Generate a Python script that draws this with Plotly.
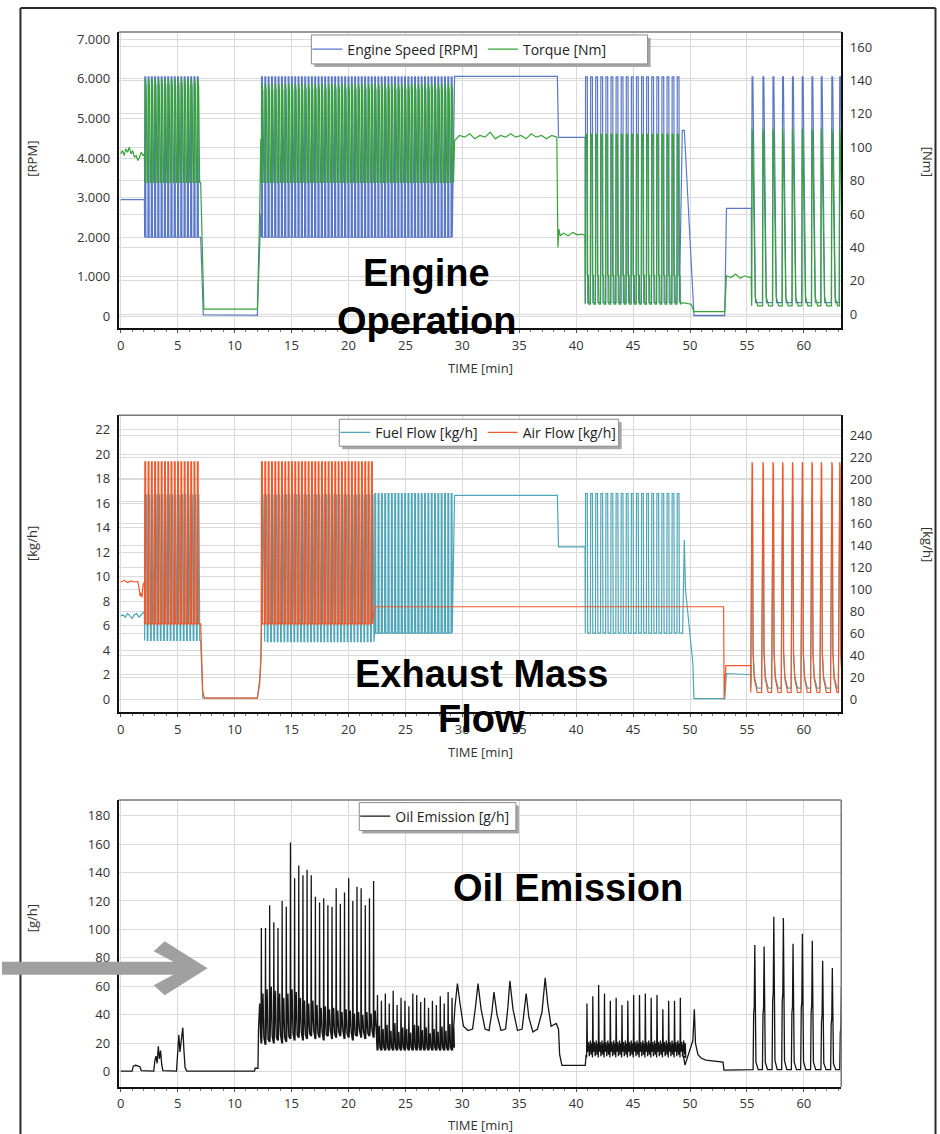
import plotly.graph_objects as go

# ================= values =================
TIME_TICKS = [0, 5, 10, 15, 20, 25, 30, 35, 40, 45, 50, 55, 60]
RPM_TICKS = [0, 1000, 2000, 3000, 4000, 5000, 6000, 7000]
RPM_TICK_TEXT = ["0", "1.000", "2.000", "3.000", "4.000", "5.000", "6.000", "7.000"]
NM_TICKS = [0, 20, 40, 60, 80, 100, 120, 140, 160]
KGH_TICKS = [0, 2, 4, 6, 8, 10, 12, 14, 16, 18, 20, 22]
AIR_TICKS = [0, 20, 40, 60, 80, 100, 120, 140, 160, 180, 200, 220, 240]
GH_TICKS = [0, 20, 40, 60, 80, 100, 120, 140, 160, 180]

# cycle start times of the last (transient) test phase
SPIKE_T = [55.45, 56.41, 57.29, 58.13, 59.0, 59.86, 60.71, 61.53, 62.46, 63.15]

# ---- Engine Speed [RPM] ----
ES_IDLE_T = [0.0, 2.08]
ES_IDLE_V = [2950, 2950]
ES_CYC_A = [2.1, 7.0, 17, 2000, 6050]          # start, end, cycles, low, high
ES_STOP_T = [7.02, 7.25, 12.0, 12.15, 12.3]
ES_STOP_V = [2000, 40, 30, 1200, 2600]
ES_CYC_B = [12.35, 29.3, 58, 2000, 6050]
ES_HOLD_T = [29.32, 38.35, 38.45, 40.78]
ES_HOLD_V = [6060, 6060, 4520, 4520]
ES_CYC_C = [40.8, 49.3, 19, 350, 6050]
ES_DOWN_T = [49.32, 49.5, 50.35, 53.05, 53.2, 55.38]
ES_DOWN_V = [4700, 4700, 20, 20, 2730, 2730]
ES_SPIKE_PEAK = [6050, 6050, 6050, 6050, 6050, 6050, 6050, 6050, 6050, 6050]
ES_SPIKE_LOW = 350

# ---- Torque [Nm] ----
TQ_IDLE_T = [0.0, 0.15, 0.3, 0.45, 0.6, 0.75, 0.9, 1.05, 1.2, 1.35, 1.5, 1.65, 1.8, 1.95, 2.08]
TQ_IDLE_V = [96, 98, 95, 99, 97, 100, 96, 98, 94, 95, 92, 94, 97, 95, 96]
TQ_CYC_A = [2.1, 7.0, 17, 79, 141]
TQ_STOP_T = [7.02, 7.3, 12.0, 12.2, 12.3]
TQ_STOP_V = [79, 3, 3, 60, 105]
TQ_CYC_B = [12.35, 29.3, 58, 79, 138]
TQ_HOLD_T = [29.32, 29.75, 30.2, 30.65, 31.1, 31.55, 32.0, 32.45, 32.9, 33.35, 33.8,
             34.25, 34.7, 35.15, 35.6, 36.05, 36.5, 36.95, 37.4, 37.85, 38.3]
TQ_HOLD_V = [104, 107, 106, 108, 105, 107, 106, 109, 105, 107, 106,
             108, 106, 107, 105, 108, 106, 107, 105, 107, 106]
TQ_STEP_T = [38.4, 38.48, 38.6, 38.9, 39.3, 39.7, 40.1, 40.5, 40.78]
TQ_STEP_V = [40, 51, 47, 48.5, 47, 49, 47.5, 48, 47]
TQ_CYC_C = [40.8, 49.3, 19, 6, 108]
TQ_DOWN_T = [49.32, 50.1, 50.35, 53.05, 53.2, 53.6, 54.0, 54.4, 54.8, 55.2, 55.38]
TQ_DOWN_V = [7, 6, 1.5, 1.5, 23, 22, 24, 21.5, 23, 22, 22.5]
TQ_SPIKE_PEAK = [111, 111, 111, 111, 111, 111, 111, 111, 111, 111]
TQ_SPIKE_LOW = 5

# ---- Fuel Flow [kg/h] (left axis) ----
FF_IDLE_T = [0.0, 0.2, 0.4, 0.6, 0.8, 1.0, 1.2, 1.4, 1.6, 1.8, 2.0, 2.08]
FF_IDLE_V = [6.8, 6.9, 6.7, 7.0, 6.8, 6.6, 6.9, 7.0, 6.7, 6.9, 7.1, 7.0]
FF_CYC_A = [2.1, 7.0, 17, 4.8, 16.7]
FF_STOP_T = [7.02, 7.2, 12.0, 12.2, 12.3]
FF_STOP_V = [4.8, 0.1, 0.1, 1.6, 3.0]
FF_CYC_B = [12.35, 22.3, 34, 4.7, 16.7]
FF_CYC_C = [22.3, 29.3, 24, 5.4, 16.8]
FF_HOLD_T = [29.32, 38.35, 38.45, 40.78]
FF_HOLD_V = [16.65, 16.65, 12.45, 12.45]
FF_CYC_D = [40.8, 49.3, 19, 5.4, 16.8]
FF_DOWN_T = [49.35, 49.5, 49.6, 50.25, 50.35, 53.05, 53.2, 55.38]
FF_DOWN_V = [5.4, 13.0, 9.0, 2.9, 0.05, 0.05, 2.1, 2.0]
FF_SPIKE_PEAK = [16.5, 16.5, 16.5, 16.5, 16.5, 16.5, 16.5, 16.5, 16.5, 16.5]
FF_SPIKE_LOW = 0.9

# ---- Air Flow [kg/h] (right axis) ----
AF_IDLE_T = [0.0, 0.3, 0.6, 0.9, 1.2, 1.5, 1.62, 1.7, 1.78, 1.86, 1.95, 2.08]
AF_IDLE_V = [107, 108.5, 106.5, 108, 107, 107.5, 101, 94, 97, 93, 104, 107]
AF_CYC_A = [2.1, 7.0, 17, 69, 216]
AF_STOP_T = [7.02, 7.2, 7.35, 12.0, 12.1, 12.2, 12.3]
AF_STOP_V = [69, 8, 1.5, 1.5, 8, 14, 35]
AF_CYC_B = [12.35, 22.3, 34, 69, 216]
AF_HOLD_T = [22.32, 52.95, 53.0, 53.15, 55.38]
AF_HOLD_V = [84.5, 84.5, 0.5, 31, 31]
AF_SPIKE_PEAK = [216, 216, 216, 216, 216, 216, 216, 216, 216, 216]
AF_SPIKE_LOW = 6.6

# ---- Oil Emission [g/h] ----
OIL_IDLE_T = [0.0, 1.0, 1.1, 1.3, 1.5, 1.7, 1.8, 2.9, 3.0, 3.1, 3.2, 3.3, 3.4, 3.5, 3.6, 3.7,
              4.9, 5.0, 5.1, 5.2, 5.3, 5.45, 5.55, 5.65, 5.8, 11.75, 11.8, 12.05, 12.1, 12.2, 12.28]
OIL_IDLE_V = [0.5, 0.5, 4, 4.6, 4.2, 3.5, 0.8, 0.5, 8, 11, 6, 18, 9, 15, 5, 0.8,
              0.5, 12, 26, 14, 20, 31, 15, 3, 0.5, 0.5, 2.5, 2.5, 30, 48, 25]
OIL_B_FIRST, OIL_B_LAST = 12.35, 22.21
OIL_B_PEAK = [101, 101, 117, 105, 101, 120, 116, 161, 136, 145, 138, 142, 138, 123,
              119, 122, 117, 116, 129, 118, 126, 136, 120, 130, 129, 117, 122, 134]
OIL_B_MID = [55, 58, 60, 57, 55, 52, 55, 58, 56, 52, 50, 48, 50, 47,
             45, 46, 44, 45, 43, 42, 44, 43, 41, 42, 40, 42, 41, 43]
OIL_B_LOW = [20, 19, 21, 20, 22, 20, 21, 23, 22, 24, 22, 23, 25, 23,
             24, 22, 25, 23, 24, 25, 23, 24, 22, 25, 24, 23, 25, 24]
OIL_C_FIRST, OIL_C_LAST = 22.55, 29.1
OIL_C_PEAK = [54, 50, 55, 48, 57, 47, 52, 50, 46, 55, 54, 49, 52, 45, 50, 47, 53, 48, 56, 52]
OIL_C_LOW = 15
OIL_WAVE_T = [29.15, 29.35, 29.57, 29.8, 30.1, 30.5, 30.9, 31.15, 31.38, 31.65, 32.0, 32.35,
              32.6, 32.78, 33.05, 33.4, 33.8, 34.0, 34.18, 34.45, 34.85, 35.25, 35.45, 35.61,
              35.85, 36.2, 36.6, 37.0, 37.28, 37.5, 37.8, 38.05, 38.25, 38.45, 38.55, 38.75, 40.8]
OIL_WAVE_V = [20, 45, 62, 48, 32, 29, 30, 45, 62, 44, 30, 29,
              42, 56, 40, 29, 30, 45, 64, 44, 29, 30, 44, 55,
              38, 28, 30, 42, 66, 48, 32, 33, 34, 30, 12, 4.5, 4.5]
OIL_D_FIRST, OIL_D_LAST = 40.95, 49.15
OIL_D_PEAK = [48, 53, 61, 55, 50, 52, 47, 50, 54, 54, 55, 52, 54, 44, 50, 50, 52]
OIL_D_BAND = [21, 22, 20]
OIL_D_LOW = 10
OIL_TAIL_T = [49.3, 49.45, 49.56, 49.8, 50.0, 50.25, 50.38, 50.48, 50.7, 51.0, 51.4, 52.0,
              52.9, 52.98, 55.5]
OIL_TAIL_V = [12, 10, 4.7, 11, 15, 22, 44, 20, 12, 9.5, 8.2, 7.5, 6.8, 1.2, 1.2]
OIL_SPIKE_T = [55.69, 56.51, 57.36, 58.2, 59.05, 59.87, 60.74, 61.65, 62.5, 63.3]
OIL_SPIKE_PEAK = [89, 88, 109, 108, 90, 97, 92, 78, 73, 60]
OIL_SPIKE_LOW = 1.5

# ================= waveform shapes (phase, level fraction) =================
P_NARROW_DENSE = [(0.0, 0.0), (0.06, 1.0), (0.3, 1.0), (0.36, 0.0)]
P_WIDE = [(0.0, 0.0), (0.2, 1.0), (0.45, 0.93), (0.75, 0.0)]
P_CYAN = [(0.0, 0.0), (0.06, 1.0), (0.5, 1.0), (0.8, 0.0)]
P_NARROW = [(0.0, 0.0), (0.06, 1.0), (0.4, 1.0), (0.48, 0.0)]
P_TQ_C = [(0.0, 0.0), (0.06, 1.0), (0.2, 0.95), (0.3, 1.0), (0.38, 0.17), (0.62, 0.17), (0.68, 0.0)]
S_ES = [(-0.05, 0.0), (0.0, 1.0), (0.07, 1.0), (0.3, 0.0)]
S_TQ = [(-0.03, 0.0), (0.0, 1.0), (0.05, 0.96), (0.28, 0.05), (0.5, 0.0)]
S_AIR = [(-0.12, 0.0), (0.0, 1.0), (0.04, 0.98), (0.09, 0.18), (0.2, 0.06), (0.45, 0.0)]
S_OIL = [(-0.15, 0.0), (-0.1, 0.45), (-0.05, 0.5), (0.0, 1.0), (0.05, 0.2), (0.1, 0.06), (0.3, 0.0)]


def cyc(seg, prof):
    t0, t1, n, lo, hi = seg
    p = (t1 - t0) / n
    ts, vs = [], []
    for k in range(n):
        for ph, lv in prof:
            ts.append(t0 + (k + ph) * p)
            vs.append(lo + lv * (hi - lo))
    return ts, vs


def spk(times, peaks, lo, prof):
    ts, vs = [], []
    for tp, pk in zip(times, peaks):
        for dt, lv in prof:
            ts.append(tp + dt)
            vs.append(lo + lv * (pk - lo))
    return ts, vs


def join(*parts):
    T, V = [], []
    for t, v in parts:
        T += list(t)
        V += list(v)
    return T, V


es_t, es_v = join((ES_IDLE_T, ES_IDLE_V), cyc(ES_CYC_A, P_NARROW_DENSE), (ES_STOP_T, ES_STOP_V),
                  cyc(ES_CYC_B, P_NARROW_DENSE), (ES_HOLD_T, ES_HOLD_V), cyc(ES_CYC_C, P_NARROW),
                  (ES_DOWN_T, ES_DOWN_V), spk(SPIKE_T, ES_SPIKE_PEAK, ES_SPIKE_LOW, S_ES))
tq_t, tq_v = join((TQ_IDLE_T, TQ_IDLE_V), cyc(TQ_CYC_A, P_WIDE), (TQ_STOP_T, TQ_STOP_V),
                  cyc(TQ_CYC_B, P_WIDE), (TQ_HOLD_T, TQ_HOLD_V), (TQ_STEP_T, TQ_STEP_V),
                  cyc(TQ_CYC_C, P_TQ_C), (TQ_DOWN_T, TQ_DOWN_V),
                  spk(SPIKE_T, TQ_SPIKE_PEAK, TQ_SPIKE_LOW, S_TQ))
ff_t, ff_v = join((FF_IDLE_T, FF_IDLE_V), cyc(FF_CYC_A, P_CYAN), (FF_STOP_T, FF_STOP_V),
                  cyc(FF_CYC_B, P_CYAN), cyc(FF_CYC_C, P_NARROW_DENSE), (FF_HOLD_T, FF_HOLD_V),
                  cyc(FF_CYC_D, P_NARROW), (FF_DOWN_T, FF_DOWN_V),
                  spk(SPIKE_T, FF_SPIKE_PEAK, FF_SPIKE_LOW, S_AIR))
af_t, af_v = join((AF_IDLE_T, AF_IDLE_V), cyc(AF_CYC_A, P_NARROW_DENSE), (AF_STOP_T, AF_STOP_V),
                  cyc(AF_CYC_B, P_NARROW_DENSE), (AF_HOLD_T, AF_HOLD_V),
                  spk(SPIKE_T, AF_SPIKE_PEAK, AF_SPIKE_LOW, S_AIR))


def oil_series():
    ts, vs = list(OIL_IDLE_T), list(OIL_IDLE_V)
    pB = (OIL_B_LAST - OIL_B_FIRST) / (len(OIL_B_PEAK) - 1)
    for k, (pk, md, lo) in enumerate(zip(OIL_B_PEAK, OIL_B_MID, OIL_B_LOW)):
        tp = OIL_B_FIRST + k * pB
        for dt, v in [(-0.08, lo), (0.0, pk), (0.08, lo), (0.4, md), (0.6, lo + 4)]:
            ts.append(tp + dt * pB)
            vs.append(v)
    pC = (OIL_C_LAST - OIL_C_FIRST) / (len(OIL_C_PEAK) - 1)
    for k, pk in enumerate(OIL_C_PEAK):
        tp = OIL_C_FIRST + k * pC
        for dt, v in [(-0.1, OIL_C_LOW), (0.0, pk), (0.12, OIL_C_LOW), (0.45, 0.6 * pk),
                      (0.6, OIL_C_LOW + 2)]:
            ts.append(tp + dt * pC)
            vs.append(v)
    ts += OIL_WAVE_T
    vs += OIL_WAVE_V
    ts.append(40.87)
    vs.append(12)
    pD = (OIL_D_LAST - OIL_D_FIRST) / (len(OIL_D_PEAK) - 1)
    b1, b2, b3 = OIL_D_BAND
    for k, pk in enumerate(OIL_D_PEAK):
        tp = OIL_D_FIRST + k * pD
        for dt, v in [(-0.06, OIL_D_LOW), (0.0, pk), (0.08, OIL_D_LOW + 4), (0.25, b1),
                      (0.4, OIL_D_LOW + 1), (0.58, b2), (0.72, OIL_D_LOW + 2), (0.85, b3),
                      (0.93, OIL_D_LOW)]:
            ts.append(tp + dt * pD)
            vs.append(v)
    ts += OIL_TAIL_T
    vs += OIL_TAIL_V
    t2, v2 = spk(OIL_SPIKE_T, OIL_SPIKE_PEAK, OIL_SPIKE_LOW, S_OIL)
    return ts + t2, vs + v2


oil_t, oil_v = oil_series()

# ================= figure =================
W, H = 940, 1134
FONT = "Open Sans"
BLUE, GREEN, CYAN, ORANGE, BLACK = "#5a78c8", "#37a337", "#4ea6b8", "#f0582a", "#151515"
GRID = "#dadada"


def X(px):
    return px / W


def Y(py):
    return 1 - py / H


fig = go.Figure()
fig.add_trace(go.Scatter(x=es_t, y=es_v, mode="lines", name="Engine Speed [RPM]",
                         line=dict(color=BLUE, width=1.2), xaxis="x", yaxis="y", legend="legend"))
fig.add_trace(go.Scatter(x=tq_t, y=tq_v, mode="lines", name="Torque [Nm]",
                         line=dict(color=GREEN, width=1.2), xaxis="x", yaxis="y2", legend="legend"))
fig.add_trace(go.Scatter(x=ff_t, y=ff_v, mode="lines", name="Fuel Flow [kg/h]",
                         line=dict(color=CYAN, width=1.2), xaxis="x2", yaxis="y3", legend="legend2"))
fig.add_trace(go.Scatter(x=af_t, y=af_v, mode="lines", name="Air Flow [kg/h]",
                         line=dict(color=ORANGE, width=1.2), xaxis="x2", yaxis="y4", legend="legend2"))
fig.add_trace(go.Scatter(x=oil_t, y=oil_v, mode="lines", name="Oil Emission [g/h]",
                         line=dict(color=BLACK, width=1.3), xaxis="x3", yaxis="y5", legend="legend3"))

XD = [X(117), X(841)]
D1 = [Y(327), Y(30)]
D2 = [Y(711.7), Y(414)]
D3 = [Y(1086.7), Y(799.3)]

tickfont = dict(family=FONT, size=13, color="#333")


def xaxis(anchor):
    return dict(domain=XD, anchor=anchor, range=[-0.175, 63.28], tickvals=TIME_TICKS,
                showline=True, linecolor="#111", linewidth=2, showgrid=True, gridcolor=GRID,
                gridwidth=1, zeroline=False, ticks="outside", ticklen=3, tickcolor="#555",
                minor=dict(dtick=1, ticks="outside", ticklen=2, tickcolor="#777", showgrid=False),
                tickfont=tickfont, ticklabelstandoff=1)


def yaxis(domain, rng, vals, text=None, side="left", overlay=None, anchor="x"):
    d = dict(range=rng, tickvals=vals, showline=True, linecolor="#111", linewidth=2,
             showgrid=True, gridcolor=GRID, gridwidth=1, zeroline=False, ticks="",
             tickfont=tickfont, side=side, anchor=anchor, ticklabelstandoff=4)
    if text is not None:
        d["ticktext"] = text
    if overlay:
        d["overlaying"] = overlay
    else:
        d["domain"] = domain
    return d


def legend(xp, yp):
    return dict(x=X(xp), y=Y(yp), xanchor="left", yanchor="top", orientation="h",
                bgcolor="rgba(0,0,0,0)", borderwidth=0,
                font=dict(family=FONT, size=14, color="#222"), itemwidth=30)


# legend frames (left, top, right, bottom) in pixels
BOX1 = (310, 33, 647, 62)
BOX2 = (338, 418, 618, 445)
BOX3 = (358, 802, 515, 830)

fig.update_layout(
    width=W, height=H, margin=dict(l=0, r=0, t=0, b=0),
    paper_bgcolor="white", plot_bgcolor="white",
    font=dict(family=FONT, size=13, color="#333"),
    showlegend=True,
    xaxis=xaxis("y"),
    yaxis=yaxis(D1, [-302, 7184], RPM_TICKS, RPM_TICK_TEXT, anchor="x"),
    yaxis2=yaxis(None, [-8.5, 169], NM_TICKS, side="right", overlay="y", anchor="x"),
    xaxis2=xaxis("y3"),
    yaxis3=yaxis(D2, [-1.08, 23.19], KGH_TICKS, anchor="x2"),
    yaxis4=yaxis(None, [-11.5, 258.4], AIR_TICKS, side="right", overlay="y3", anchor="x2"),
    xaxis3=xaxis("y5"),
    yaxis5=yaxis(D3, [-10.5, 191], GH_TICKS, anchor="x3"),
    legend=legend(BOX1[0] - 4, 31.5),
    legend2=legend(BOX2[0] - 4, 415.5),
    legend3=legend(BOX3[0] - 4, 800),
)

shapes = []
# legend frames with drop shadow
for (l, t, r, b) in (BOX1, BOX2, BOX3):
    shapes.append(dict(type="rect", xref="paper", yref="paper", x0=X(l + 3), x1=X(r + 3),
                       y0=Y(b + 3), y1=Y(t + 3), fillcolor="#a6a6a6",
                       line=dict(width=0), layer="above"))
    shapes.append(dict(type="rect", xref="paper", yref="paper", x0=X(l), x1=X(r),
                       y0=Y(b), y1=Y(t), fillcolor="white",
                       line=dict(width=1, color="#8a8a8a"), layer="above"))
# top borders of plots (gray) and right border of the last plot
for ytop in (30, 414, 799.3):
    shapes.append(dict(type="line", xref="paper", yref="paper", x0=X(117), x1=X(841),
                       y0=Y(ytop), y1=Y(ytop), line=dict(color="#777", width=1.5)))
shapes.append(dict(type="line", xref="paper", yref="paper", x0=X(841), x1=X(841),
                   y0=Y(799.3), y1=Y(1086.7), line=dict(color="#777", width=1.5)))
# outer frame
for (x0, y0, x1, y1) in [(18.5, 6, 18.5, 1134), (18.5, 6, 935.5, 6), (935.5, 6, 935.5, 1134)]:
    shapes.append(dict(type="line", xref="paper", yref="paper", x0=X(x0), y0=Y(y0),
                       x1=X(x1), y1=Y(y1), line=dict(color="#2a2a2a", width=2)))
# gray arrow
shapes.append(dict(type="rect", xref="paper", yref="paper", x0=X(0), x1=X(192),
                   y0=Y(974.5), y1=Y(961.5), fillcolor="#a0a0a0", line=dict(width=0),
                   layer="above"))
chev = [(163, 941), (206, 968), (163, 995), (152, 985), (184, 968), (152, 951)]
path = "M " + " L ".join(f"{X(a):.5f},{Y(b):.5f}" for a, b in chev) + " Z"
shapes.append(dict(type="path", xref="paper", yref="paper", path=path, fillcolor="#a0a0a0",
                   line=dict(width=0), layer="above"))
fig.update_layout(shapes=shapes)

ann = []


def text(x, y, s, size=13, angle=0, fam=FONT, color="#333"):
    ann.append(dict(x=X(x), y=Y(y), xref="paper", yref="paper", text=s, showarrow=False,
                    xanchor="center", yanchor="middle", textangle=angle,
                    font=dict(family=fam, size=size, color=color)))


text(30, 157, "[RPM]", angle=-90)
text(928, 160, "[Nm]", angle=90)
text(480, 367, "TIME [min]")
text(30, 542, "[kg/h]", angle=-90)
text(928, 543, "[kg/h]", angle=90)
text(480, 751.5, "TIME [min]")
text(30, 918, "[g/h]", angle=-90)
text(480, 1125, "TIME [min]")
BIG = "Liberation Sans"
text(425, 271, "<b>Engine</b>", size=38, fam=BIG, color="#000")
text(425, 319.5, "<b>Operation</b>", size=38, fam=BIG, color="#000")
text(481, 673, "<b>Exhaust Mass</b>", size=38, fam=BIG, color="#000")
text(481, 718.5, "<b>Flow</b>", size=38, fam=BIG, color="#000")
text(567, 888, "<b>Oil Emission</b>", size=38, fam=BIG, color="#000")
fig.update_layout(annotations=ann)

fig.write_html("out.html")
